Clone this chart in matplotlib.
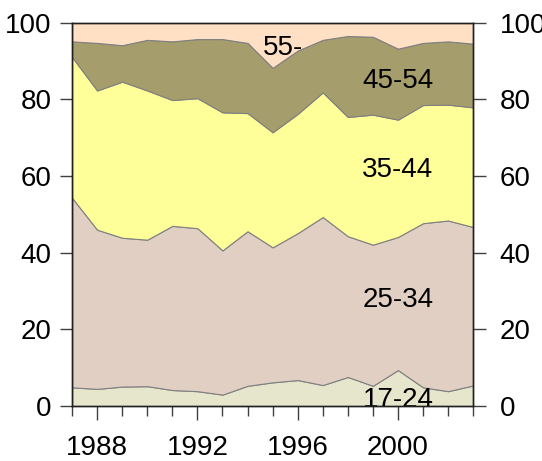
import numpy as np
import matplotlib.pyplot as plt
from matplotlib.ticker import MultipleLocator

plt.rcParams['font.family'] = ['Liberation Sans', 'DejaVu Sans']

years = list(range(1987, 2004))
labels = ['17-24', '25-34', '35-44', '45-54', '55-']

# share of each age group (percent)
age_17_24 = [4.9, 4.5, 5.1, 5.2, 4.2, 3.9, 3.0, 5.3, 6.2, 6.8, 5.5, 7.6, 5.3, 9.4, 4.9, 3.9, 5.4]
age_25_34 = [49.4, 41.5, 38.8, 38.2, 42.8, 42.5, 37.6, 40.3, 35.2, 38.3, 43.8, 36.7, 36.8, 34.7, 42.8, 44.5, 41.3]
age_35_44 = [36.7, 36.3, 40.7, 38.9, 32.8, 33.9, 36.0, 30.8, 30.0, 31.1, 32.5, 31.1, 33.9, 30.6, 30.8, 30.2, 31.2]
age_45_54 = [4.1, 12.4, 9.5, 13.2, 15.3, 15.4, 19.1, 18.3, 16.8, 16.5, 13.7, 21.1, 20.3, 18.5, 16.2, 16.5, 16.6]
age_55 = [4.9, 5.3, 5.9, 4.5, 4.9, 4.3, 4.3, 5.3, 11.8, 7.3, 4.5, 3.5, 3.7, 6.8, 5.3, 4.9, 5.5]

colors = ['#e6e6cc', '#e1cfc3', '#ffff99', '#a69d6c', '#ffe0c4']

fig = plt.figure(figsize=(5.42, 4.61), dpi=100)
ax = fig.add_axes([0.133, 0.119, 0.740, 0.832])

ax.stackplot(years, age_17_24, age_25_34, age_35_44, age_45_54, age_55,
             colors=colors, edgecolor='#808080', linewidth=0.8)

ax.set_xlim(1987, 2003)
ax.set_ylim(0, 100)
ax.set_yticks([0, 20, 40, 60, 80, 100])
ax.set_xticks([1988, 1992, 1996, 2000])
ax.xaxis.set_minor_locator(MultipleLocator(1))

ax.tick_params(axis='y', direction='out', length=9, width=1, color='#404040',
               labelsize=20, pad=6)
ax.tick_params(axis='x', which='major', direction='out', length=10, width=1,
               color='#404040', labelsize=20, pad=11)
ax.tick_params(axis='x', which='minor', direction='out', length=7, width=1,
               color='#404040')

# right-hand axis repeats the percent scale
ax2 = ax.twinx()
ax2.set_ylim(0, 100)
ax2.set_yticks([0, 20, 40, 60, 80, 100])
ax2.tick_params(axis='y', direction='out', length=9, width=1, color='#404040',
                labelsize=20, pad=10)

for a in (ax, ax2):
    for s in a.spines.values():
        s.set_color('#202020')
        s.set_linewidth(1)

# group labels
txt = dict(fontsize=20, ha='center', va='center', color='black')
ax.text(1995.4, 93.5, '55-', **txt)
ax.text(2000.0, 84.9, '45-54', **txt)
ax.text(2000.0, 61.5, '35-44', **txt)
ax.text(2000.0, 27.6, '25-34', **txt)
ax.text(2000.0, 1.6, '17-24', clip_on=False, zorder=5, **txt)

fig.savefig('out.png', dpi=100)
